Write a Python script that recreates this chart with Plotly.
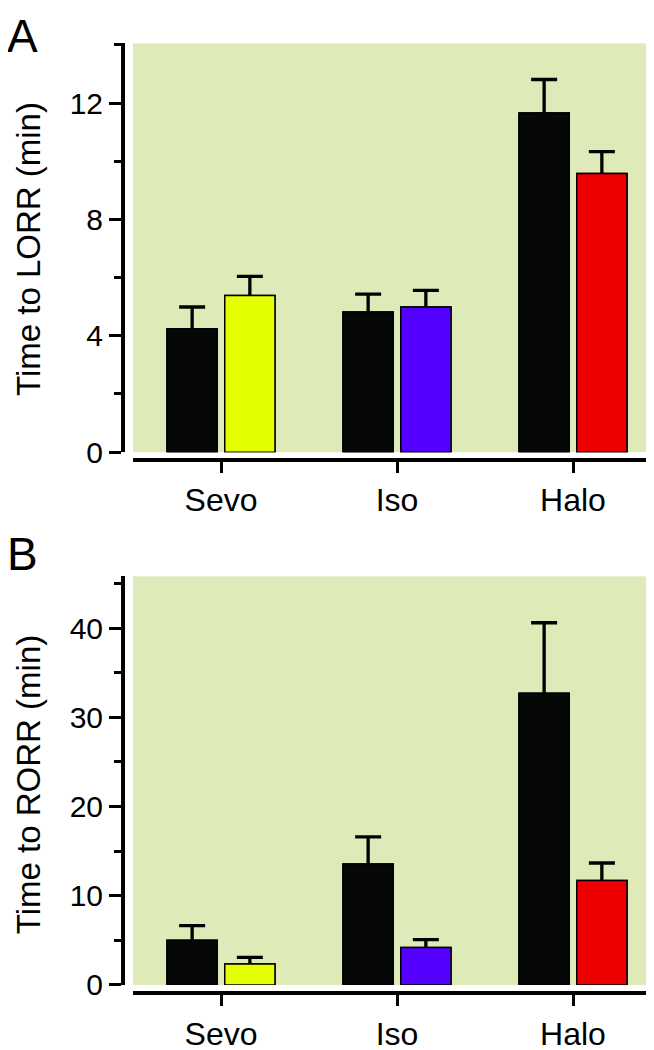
import plotly.graph_objects as go

# ---- data ----
categories = ["Sevo", "Iso", "Halo"]

lorr_control = [4.24, 4.82, 11.66]
lorr_control_err = [0.75, 0.61, 1.15]
lorr_treated = [5.39, 4.99, 9.58]
lorr_treated_err = [0.65, 0.57, 0.75]

rorr_control = [5.0, 13.56, 32.7]
rorr_control_err = [1.65, 3.04, 7.9]
rorr_treated = [2.35, 4.19, 11.7]
rorr_treated_err = [0.74, 0.88, 1.97]

treated_colors = ["#E4FF00", "#5400FF", "#EE0000"]
control_color = "#060808"
bg_color = "#DEEBB8"

W, H = 654, 1050
FONT = "Liberation Sans, Arial, sans-serif"


def px_x(p):
    return p / W


def px_y(p):
    return 1 - p / H


fig = go.Figure()

err_style = dict(type="data", symmetric=False, thickness=3.3, width=13, color="black")

for xa, ya, ctrl, ctrl_err, trt, trt_err in [
    ("x", "y", lorr_control, lorr_control_err, lorr_treated, lorr_treated_err),
    ("x2", "y2", rorr_control, rorr_control_err, rorr_treated, rorr_treated_err),
]:
    # bars carrying the (upper) error bars; lower end hidden inside the bar
    fig.add_trace(go.Bar(
        x=categories, y=ctrl, xaxis=xa, yaxis=ya,
        marker=dict(color=control_color, line=dict(color="black", width=1.5)),
        error_y=dict(array=ctrl_err, arrayminus=[v / 2 for v in ctrl], **err_style),
        showlegend=False, offsetgroup="a", hoverinfo="skip",
    ))
    fig.add_trace(go.Bar(
        x=categories, y=trt, xaxis=xa, yaxis=ya,
        marker=dict(color=treated_colors, line=dict(color="black", width=1.5)),
        error_y=dict(array=trt_err, arrayminus=[v / 2 for v in trt], **err_style),
        showlegend=False, offsetgroup="b", hoverinfo="skip",
    ))
    # same bars drawn on top, covering the lower part of the error bars
    fig.add_trace(go.Bar(
        x=categories, y=ctrl, xaxis=xa, yaxis=ya,
        marker=dict(color=control_color, line=dict(color="black", width=1.5)),
        showlegend=False, offsetgroup="a",
    ))
    fig.add_trace(go.Bar(
        x=categories, y=trt, xaxis=xa, yaxis=ya,
        marker=dict(color=treated_colors, line=dict(color="black", width=1.5)),
        showlegend=False, offsetgroup="b",
    ))

xdom = [px_x(125), px_x(653)]

common_x = dict(
    type="category", range=[-0.5, 2.5], showline=True, linewidth=4, linecolor="black",
    ticks="outside", ticklen=11, tickwidth=3, tickcolor="black",
    tickfont=dict(size=32, color="black", family=FONT),
    showgrid=False, zeroline=False, anchor="free", domain=xdom,
)
common_y = dict(
    showline=True, linewidth=4, linecolor="black",
    ticks="outside", ticklen=12, tickwidth=3, tickcolor="black",
    tickfont=dict(size=30, color="black", family=FONT),
    showgrid=False, zeroline=False, anchor="free", position=px_x(115),
)

fig.update_layout(
    width=W, height=H,
    margin=dict(l=0, r=0, t=0, b=0),
    paper_bgcolor="white", plot_bgcolor=bg_color,
    barmode="group", bargap=0.344, bargroupgap=0.13,
    font=dict(family=FONT, color="black"),
    xaxis=dict(position=px_y(459), **common_x),
    yaxis=dict(domain=[px_y(451.5), px_y(36)], range=[0, 14.05], dtick=4,
               minor=dict(dtick=2, ticks="outside", ticklen=7, tickwidth=3, tickcolor="black", showgrid=False),
               **common_y),
    xaxis2=dict(position=px_y(1001.7), **common_x),
    yaxis2=dict(domain=[px_y(993), px_y(577.7)], range=[0, 45.8], dtick=10,
                minor=dict(dtick=5, ticks="outside", ticklen=7, tickwidth=3, tickcolor="black", showgrid=False),
                **common_y),
)

annotations = [
    dict(text="A", x=px_x(-3), y=px_y(0), xanchor="left", yanchor="top", font=dict(size=46)),
    dict(text="B", x=px_x(-3), y=px_y(527), xanchor="left", yanchor="top", font=dict(size=46)),
    dict(text="Time to LORR (min)", x=px_x(20), y=px_y(245), xanchor="center", yanchor="middle",
         textangle=-90, font=dict(size=33)),
    dict(text="Time to RORR (min)", x=px_x(20), y=px_y(790), xanchor="center", yanchor="middle",
         textangle=-90, font=dict(size=33)),
]
for a in annotations:
    a.update(xref="paper", yref="paper", showarrow=False)
fig.update_layout(annotations=annotations)

fig.write_html("out.html")
